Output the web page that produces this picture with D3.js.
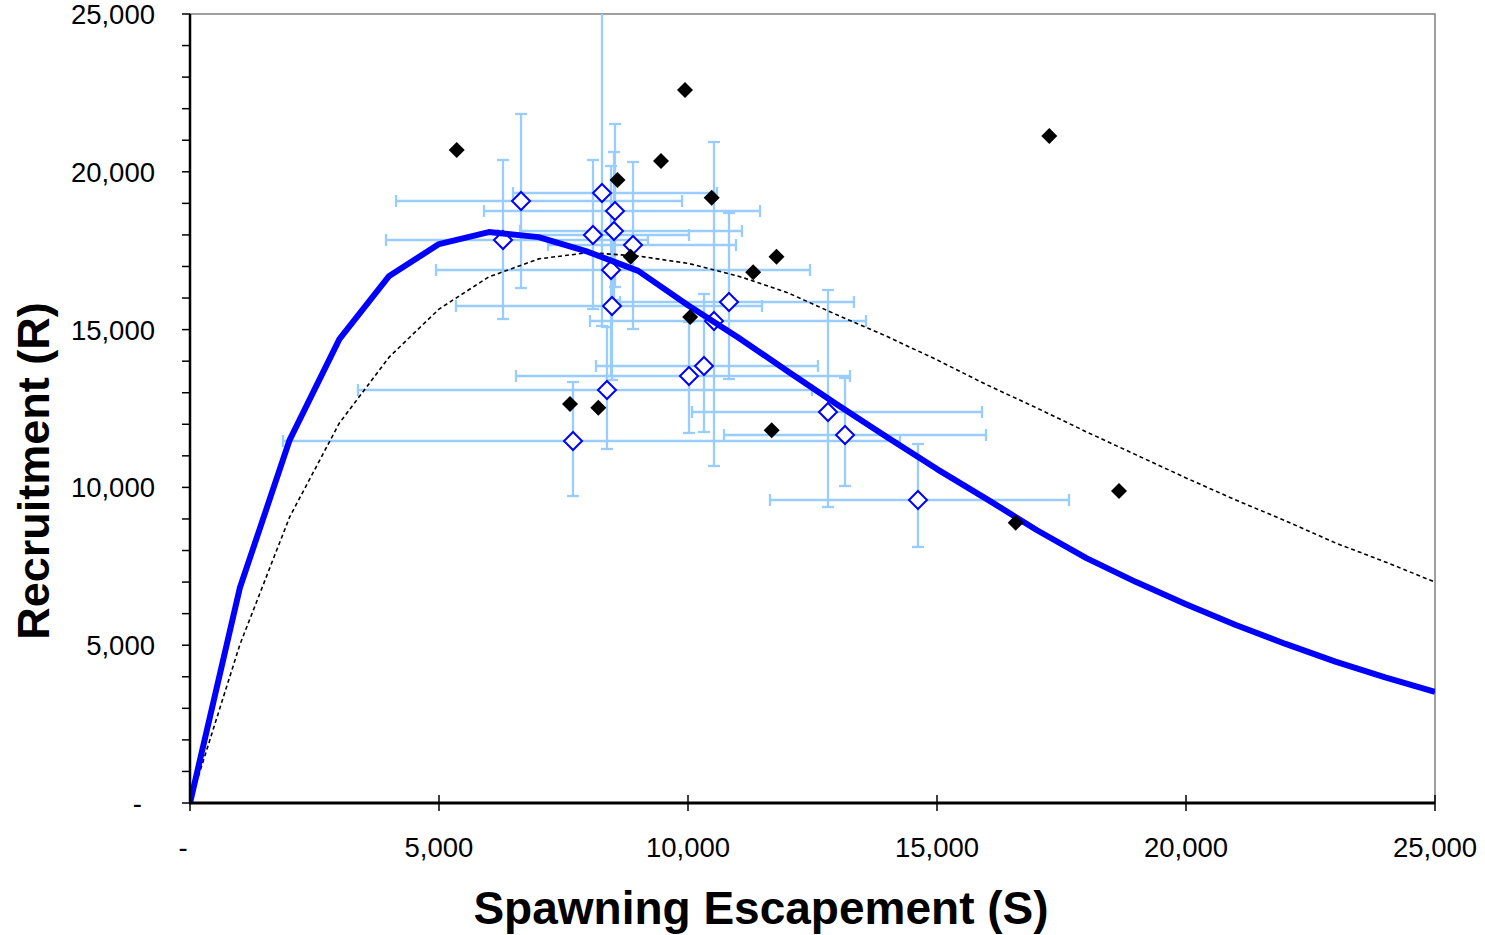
<!DOCTYPE html>
<html>
<head>
<meta charset="utf-8">
<script src="https://cdn.jsdelivr.net/npm/d3@7"></script>
<style>
  html, body { margin: 0; padding: 0; background: #fff; }
  svg { display: block; font-family: "Liberation Sans", Arial, sans-serif; }
</style>
</head>
<body>
<svg id="chart" width="1485" height="935"></svg>
<script>
// ---- Data ----
const curveS = [0,1000,2000,3000,4000,5000,6000,7000,8000,9000,10000,11000,12000,13000,14000,15000,16000,17000,18000,19000,20000,21000,22000,23000,24000,25000];
const fitR   = [0,6810,11500,14700,16700,17710,18090,17930,17460,16860,15770,14760,13680,12620,11590,10580,9630,8650,7760,7000,6300,5640,5040,4480,3980,3520];
const dashR  = [0,5010,9060,12040,14130,15650,16670,17240,17440,17330,17100,16700,16170,15460,14780,14040,13250,12520,11760,11030,10300,9600,8940,8240,7640,7000];

// observed spawner-recruit pairs (filled black diamonds)
const obsS = [5355,9940,17255,9458,8584,10476,8849,11777,11309,10044,7631,8199,11681,18655,16580];
const obsR = [20691,22592,21134,20342,19740,19180,17310,17310,16816,15399,12643,12525,11809,9886,8882];

// estimated values with uncertainty (open diamonds + error bars)
const estS = [6285,6647,8273,8534,8092,8514,8896,8454,8474,10823,10522,10321,10020,8373,7691,12811,13153,14618];
const estR = [17839,19075,19328,18758,17997,18124,17681,16888,15748,15875,15273,13847,13530,13086,11470,12389,11660,9601];
const sLo  = [3936,4137,6486,5904,6185,6627,7189,4940,5341,8635,8032,8153,6546,3373,1867,10080,10723,11647];
const sHi  = [9197,9880,10582,11446,10020,11084,10964,12450,11486,13333,13574,12610,13253,12490,14257,15904,15984,17651];
const rLo  = [15336,16318,15114,16350,15653,15938,15019,13530,13403,13435,10678,11755,11724,11217,9727,9379,10044,8112];
const rHi  = [20374,21832,26500,21515,20374,20627,20311,20184,18156,18695,20944,16128,15241,15082,13340,16255,13466,11375];

const xTicks = [0,5000,10000,15000,20000,25000];
const yTicks = [0,5000,10000,15000,20000,25000];
const yMinor = d3.range(0, 25001, 1000);

// ---- Layout ----
const svg = d3.select("#chart");
const L = 190, R = 1435, T = 14, B = 803;
const x = d3.scaleLinear().domain([0, 25000]).range([L, R]);
const y = d3.scaleLinear().domain([0, 25000]).range([B, T]);
const fmt = v => v === 0 ? "-" : d3.format(",")(v);

svg.append("defs").append("clipPath").attr("id", "plotClip")
  .append("rect").attr("x", L).attr("y", T).attr("width", R - L).attr("height", B - T);

// plot border (top/right thin gray)
svg.append("rect").attr("x", L).attr("y", T).attr("width", R - L).attr("height", B - T)
  .attr("fill", "none").attr("stroke", "#808080").attr("stroke-width", 1.5);

const plot = svg.append("g").attr("clip-path", "url(#plotClip)");

// error bars
const ebColor = "#99ccff";
const eb = plot.append("g").attr("stroke", ebColor).attr("stroke-width", 2.3).attr("fill", "none");
estS.forEach((s, i) => {
  const cx = x(s), cy = y(estR[i]);
  // horizontal
  eb.append("line").attr("x1", x(sLo[i])).attr("x2", x(sHi[i])).attr("y1", cy).attr("y2", cy);
  eb.append("line").attr("x1", x(sLo[i])).attr("x2", x(sLo[i])).attr("y1", cy - 6).attr("y2", cy + 6);
  eb.append("line").attr("x1", x(sHi[i])).attr("x2", x(sHi[i])).attr("y1", cy - 6).attr("y2", cy + 6);
  // vertical
  eb.append("line").attr("x1", cx).attr("x2", cx).attr("y1", y(rLo[i])).attr("y2", y(rHi[i]));
  eb.append("line").attr("x1", cx - 6).attr("x2", cx + 6).attr("y1", y(rLo[i])).attr("y2", y(rLo[i]));
  eb.append("line").attr("x1", cx - 6).attr("x2", cx + 6).attr("y1", y(rHi[i])).attr("y2", y(rHi[i]));
});

// open diamonds
const diamond = r => `M0,${-r}L${r},0L0,${r}L${-r},0Z`;
plot.append("g").selectAll("path").data(estS).join("path")
  .attr("d", diamond(9))
  .attr("transform", (d, i) => `translate(${x(d)},${y(estR[i])})`)
  .attr("fill", "#fff").attr("stroke", "#0000ff").attr("stroke-width", 2);

// curves
const lineGen = arr => d3.line().x((d, i) => x(curveS[i])).y(d => y(d))(arr);
plot.append("path").attr("d", lineGen(dashR))
  .attr("fill", "none").attr("stroke", "#000").attr("stroke-width", 1.6)
  .attr("stroke-dasharray", "4,3");
plot.append("path").attr("d", lineGen(fitR))
  .attr("fill", "none").attr("stroke", "#0000ff").attr("stroke-width", 6)
  .attr("stroke-linejoin", "round");

// observed black diamonds
plot.append("g").selectAll("path").data(obsS).join("path")
  .attr("d", diamond(8))
  .attr("transform", (d, i) => `translate(${x(d)},${y(obsR[i])})`)
  .attr("fill", "#000");

// ---- Axes ----
// y axis
const yAxis = svg.append("g");
yAxis.append("line").attr("x1", L).attr("x2", L).attr("y1", T).attr("y2", B + 1)
  .attr("stroke", "#000").attr("stroke-width", 2.5);
yAxis.selectAll("line.minor").data(yMinor).join("line").attr("class", "minor")
  .attr("x1", L - 8).attr("x2", L).attr("y1", d => y(d)).attr("y2", d => y(d))
  .attr("stroke", "#000").attr("stroke-width", 1.5);
yAxis.selectAll("text").data(yTicks).join("text")
  .attr("x", d => d === 0 ? 142 : 155).attr("y", d => y(d)).attr("dy", "0.36em")
  .attr("text-anchor", "end").attr("font-size", 27.5).attr("fill", "#000")
  .text(fmt);

// x axis
const xAxis = svg.append("g");
xAxis.append("line").attr("x1", L - 1).attr("x2", R).attr("y1", B).attr("y2", B)
  .attr("stroke", "#000").attr("stroke-width", 3);
xAxis.selectAll("line.tick").data(xTicks).join("line").attr("class", "tick")
  .attr("x1", d => x(d)).attr("x2", d => x(d)).attr("y1", B - 8).attr("y2", B + 8)
  .attr("stroke", "#000").attr("stroke-width", 1.5);
xAxis.selectAll("text").data(xTicks).join("text")
  .attr("x", d => d === 0 ? 183 : x(d)).attr("y", 847).attr("dy", "0.36em")
  .attr("text-anchor", "middle").attr("font-size", 27.5).attr("fill", "#000")
  .text(fmt);

// titles
svg.append("text").attr("x", 761).attr("y", 907).attr("dy", "0.36em")
  .attr("text-anchor", "middle").attr("font-size", 46).attr("font-weight", "bold")
  .text("Spawning Escapement (S)");
svg.append("text").attr("transform", "translate(33,471) rotate(-90)").attr("dy", "0.36em")
  .attr("text-anchor", "middle").attr("font-size", 45).attr("font-weight", "bold")
  .text("Recruitment (R)");
</script>
</body>
</html>
